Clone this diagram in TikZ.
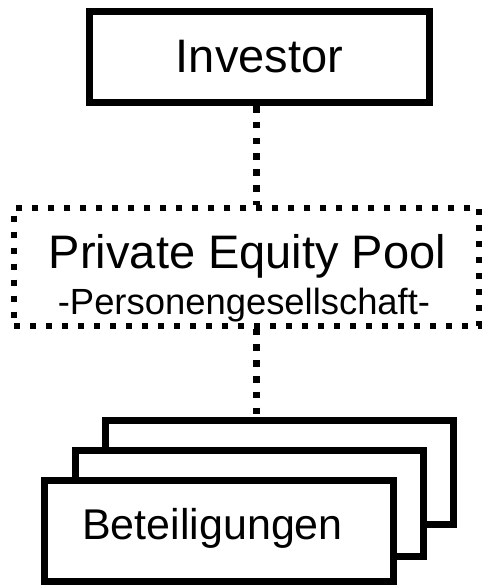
\documentclass[tikz,border=0pt]{standalone}
\usepackage{fontspec}
\setmainfont{Liberation Sans}
\begin{document}
\begin{tikzpicture}[x=1pt,y=-1pt,
  solidbox/.style={draw=black,fill=white,line width=7pt,rectangle,inner sep=0pt},
  dotbox/.style={draw=black,line width=6pt,rectangle,inner sep=0pt,dash pattern=on 6pt off 10pt},
  conn/.style={draw=black,line width=7pt,dash pattern=on 6.7pt off 9.1pt},
  bigtext/.style={font=\fontsize{47}{56}\selectfont,inner sep=0pt},
  subtext/.style={font=\fontsize{36.4}{44}\selectfont,inner sep=0pt},
  bettext/.style={font=\fontsize{43}{52}\selectfont,inner sep=0pt}]
\useasboundingbox (0,0) rectangle (483,585);
\fill[white] (0,0) rectangle (483,585);
% Investor
\node[solidbox,minimum width=340pt,minimum height=91pt,bigtext] (investor) at (259.5,57) {Investor};
% Pool box
\node[dotbox,minimum width=465pt,minimum height=118pt] (pool) at (246.75,266.5) {};
\node[bigtext,anchor=base] (poolname) at (247.5,268) {Private Equity Pool};
\node[subtext,anchor=base] (poolsub) at (244,314) {-Personengesellschaft-};
% stacked boxes
\node[solidbox,minimum width=348pt,minimum height=104pt] (back) at (279.5,472.5) {};
\node[solidbox,minimum width=348pt,minimum height=106pt] (middle) at (249.5,503.5) {};
\node[solidbox,minimum width=349pt,minimum height=101pt] (front) at (219,531) {};
\node[bettext,anchor=base] (betlabel) at (212.5,539) {Beteiligungen};
% connectors
\coordinate (cx) at (256.5,0);
\draw[conn] (cx |- investor.south) -- (cx |- pool.north);
\draw[conn] (cx |- pool.south) -- (cx |- back.north);
\end{tikzpicture}
\end{document}
